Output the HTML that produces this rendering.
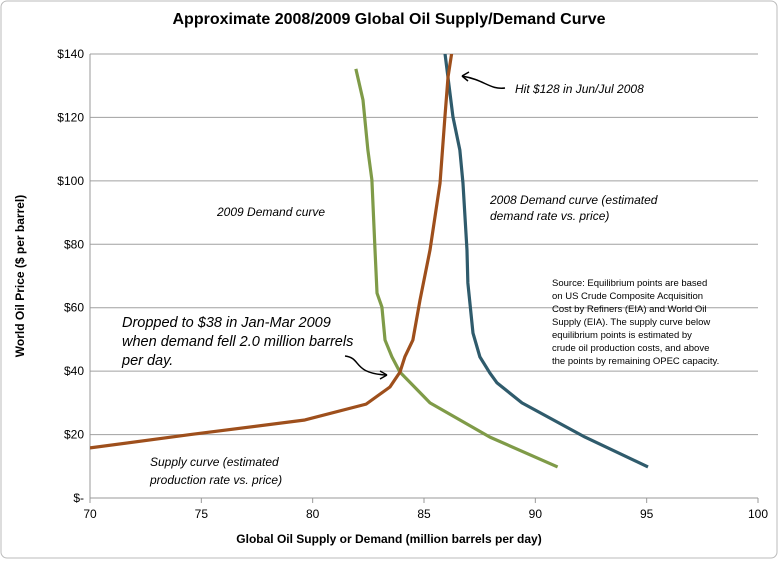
<!DOCTYPE html>
<html><head><meta charset="utf-8"><style>
body{margin:0;background:#fff;font-family:"Liberation Sans",sans-serif}
svg text{font-family:"Liberation Sans",sans-serif}
</style></head><body>
<svg id="c" width="778" height="559" viewBox="0 0 778 559">
<rect x="1" y="1" width="776" height="557" rx="6" fill="#fff" stroke="#bbb"/>
<text x="389" y="24" text-anchor="middle" font-size="16" font-weight="bold">Approximate 2008/2009 Global Oil Supply/Demand Curve</text>
<g id="grid"></g><g id="axes"></g><g id="series"></g>
<text x="389" y="543" text-anchor="middle" font-size="12" font-weight="bold">Global Oil Supply or Demand (million barrels per day)</text>
<text transform="translate(24,276) rotate(-90)" text-anchor="middle" font-size="12" font-weight="bold">World Oil Price  ($ per barrel)</text>
<text x="217" y="216" font-size="12" font-style="italic">2009 Demand curve</text>
<text font-size="12" font-style="italic"><tspan x="490" y="204">2008 Demand curve (estimated</tspan><tspan x="490" y="220">demand rate vs. price)</tspan></text>
<text font-size="12" font-style="italic"><tspan x="150" y="466">Supply curve (estimated</tspan><tspan x="150" y="484">production rate vs. price)</tspan></text>
<text x="515" y="93" font-size="12" font-style="italic">Hit $128 in Jun/Jul 2008</text>
<text font-size="14.5" font-style="italic"><tspan x="122" y="327">Dropped to $38 in Jan-Mar 2009</tspan><tspan x="122" y="346">when demand fell 2.0 million barrels</tspan><tspan x="122" y="365">per day.</tspan></text>
<text font-size="9.5"><tspan x="552" y="286">Source: Equilibrium points are based</tspan><tspan x="552" y="299">on US Crude Composite Acquisition</tspan><tspan x="552" y="312">Cost by Refiners (EIA) and World Oil</tspan><tspan x="552" y="325">Supply (EIA). The supply curve below</tspan><tspan x="552" y="338">equilibrium points is estimated by</tspan><tspan x="552" y="351">crude oil production costs, and above</tspan><tspan x="552" y="364">the points by remaining OPEC capacity.</tspan></text>
<path d="M505,88 C490,90 485,80 462,76" fill="none" stroke="#000" stroke-width="1.5"/>
<path d="M462,76 l7,-4 M462,76 l6,5" stroke="#000" stroke-width="1.5" fill="none"/>
<path d="M345,356 C362,358 352,373 386,375" fill="none" stroke="#000" stroke-width="1.5"/>
<path d="M387,375 l-7,-4 M387,375 l-7,4" stroke="#000" stroke-width="1.5" fill="none"/>
</svg>
<script>
const xTicks=[70,75,80,85,90,95,100];
const yTicks=[0,20,40,60,80,100,120,140];
const yLabels=["$-","$20","$40","$60","$80","$100","$120","$140"];
const supplyX=[70,74.5,79.65,82.4,83.47,83.92,84.14,84.5,84.82,85.27,85.72,85.94,86.08,86.26];
const supplyY=[15.8,20,24.6,29.6,35,39.7,44.5,49.8,62.4,78.2,99.3,120.2,132.8,141];
const d2009X=[81.94,82.26,82.48,82.66,82.8,82.89,83.11,83.25,83.56,83.92,85.27,87.96,91];
const d2009Y=[135.3,125.5,109.7,100.3,78.2,64.6,60.2,49.8,44.5,39.7,30,19.2,9.8];
const d2008X=[85.94,86.3,86.61,86.75,86.93,86.97,87.2,87.51,87.96,88.28,89.4,92.23,95.06];
const d2008Y=[140.3,120.2,109.7,99.3,78.2,67.8,52,44.5,39.4,36.3,30,19.2,9.8];
const X0=90,X1=758,Y0=498,Y1=54;
const sx=v=>X0+(v-70)/30*(X1-X0);
const sy=v=>Y0-v/140*(Y0-Y1);
const NS="http://www.w3.org/2000/svg";
function mk(t,a,p){const e=document.createElementNS(NS,t);for(const k in a)e.setAttribute(k,a[k]);p.appendChild(e);return e;}
const grid=document.getElementById('grid'),axes=document.getElementById('axes'),ser=document.getElementById('series');
yTicks.forEach((v,i)=>{
 if(v>0){const l=mk('line',{x1:X0,x2:X1,y1:sy(v),y2:sy(v),stroke:'#a0a0a0','stroke-width':1},grid);
 
 }
 const t=mk('text',{x:X0-6,y:sy(v)+4,'text-anchor':'end','font-size':12},axes);
 t.textContent=yLabels[i];
 
 
});
mk('line',{x1:X0,x2:X0,y1:Y1,y2:Y0,stroke:'#999'},axes);
mk('line',{x1:X0,x2:X1,y1:Y0,y2:Y0,stroke:'#999'},axes);
xTicks.forEach(v=>{
 mk('line',{x1:sx(v),x2:sx(v),y1:Y0,y2:Y0+5,stroke:'#999'},axes);
 const t=mk('text',{x:sx(v),y:Y0+20,'text-anchor':'middle','font-size':12},axes);
 t.textContent=v;
 
 
});
const clip=mk('clipPath',{id:'pc'},mk('defs',{},document.getElementById('c')));
mk('rect',{x:X0,y:Y1,width:X1-X0,height:Y0-Y1},clip);
function line(xs,ys,col,name){
 const p=mk('polyline',{points:xs.map((x,i)=>sx(x)+','+sy(ys[i])).join(' '),fill:'none',stroke:col,'stroke-width':3.2,'stroke-linejoin':'round','clip-path':'url(#pc)'},ser);
 
 
}
line(d2009X,d2009Y,'#7f9b48','demand-2009-line');
line(d2008X,d2008Y,'#2f5b6c','demand-2008-line');
line(supplyX,supplyY,'#9e4f1c','supply-line');
</script>
</body></html>
